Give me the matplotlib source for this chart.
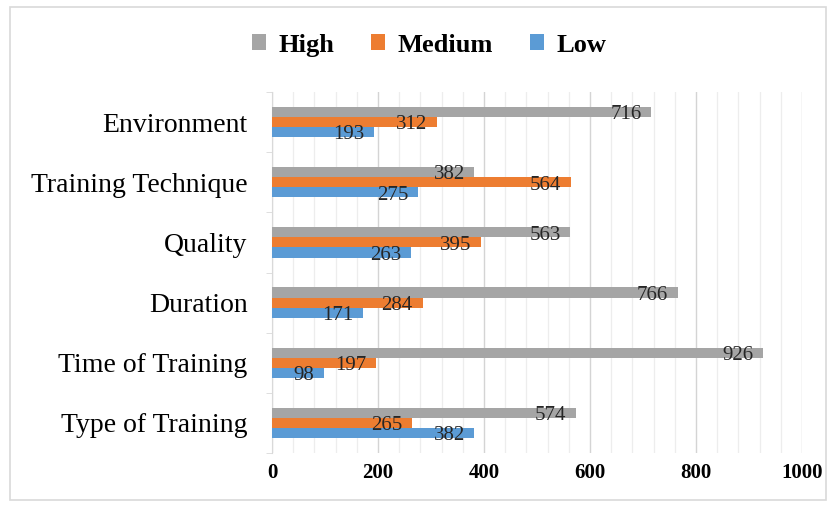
import matplotlib
matplotlib.use("Agg")
import matplotlib.pyplot as plt
import numpy as np
from matplotlib.patches import Rectangle
from matplotlib.ticker import MultipleLocator

categories = ["Environment", "Training Technique", "Quality", "Duration",
              "Time of Training", "Type of Training"]
high = [716, 382, 563, 766, 926, 574]
medium = [312, 564, 395, 284, 197, 265]
low = [193, 275, 263, 171, 98, 382]
series_names = ["High", "Medium", "Low"]
colors = ["#A5A5A5", "#ED7D31", "#5B9BD5"]
x_ticks = [0, 200, 400, 600, 800, 1000]

plt.rcParams["font.family"] = ["Liberation Serif", "DejaVu Serif"]

fig = plt.figure(figsize=(8.36, 5.07), dpi=100)
ax = fig.add_axes([0.3254, 0.1065, 0.9593 - 0.3254, 0.8185 - 0.1065])

n = len(categories)
y = np.arange(n)[::-1].astype(float)  # first category at top
bar_h = 0.168
offsets = [bar_h, 0.0, -bar_h]

for vals, name, col, off in zip([high, medium, low], series_names, colors, offsets):
    bars = ax.barh(y + off, vals, height=bar_h, color=col, label=name, zorder=3)
    for b, v in zip(bars, vals):
        ax.annotate(str(v), xy=(v, b.get_y() + b.get_height() / 2),
                    xytext=(-7, -2), textcoords="offset points",
                    ha="right", va="center", fontsize=15, color="#262626",
                    zorder=4)

ax.set_xlim(0, 1000)
ax.set_ylim(-0.5, n - 0.5)
ax.set_xticks(x_ticks)
ax.set_xticklabels([str(t) for t in x_ticks], fontsize=15, fontweight="bold")
ax.xaxis.set_minor_locator(MultipleLocator(40))
ax.grid(axis="x", which="major", color="#D4D4D4", linewidth=1.0, zorder=0)
ax.grid(axis="x", which="minor", color="#EDEDED", linewidth=0.9, zorder=0)
ax.tick_params(axis="x", which="both", length=0, pad=7)

ax.set_yticks(y)
ax.set_yticklabels(categories, fontsize=20)
ax.set_yticks(np.arange(n + 1) - 0.5, minor=True)
ax.tick_params(axis="y", which="major", length=0, pad=17.5)
ax.tick_params(axis="y", which="minor", length=4, color="#D9D9D9", direction="out")

for s in ["top", "right", "bottom"]:
    ax.spines[s].set_visible(False)
ax.spines["left"].set_color("#D9D9D9")

handles, labels = ax.get_legend_handles_labels()
fig.legend(handles, labels, loc="center", bbox_to_anchor=(0.513, 0.911),
           ncol=3, frameon=False, prop={"weight": "bold", "size": 19},
           handlelength=0.55, handleheight=0.55, handletextpad=0.45,
           columnspacing=1.4)

fig.patches.append(Rectangle((10 / 836, 7 / 507), 816 / 836, 493 / 507,
                             transform=fig.transFigure, fill=False,
                             edgecolor="#D9D9D9", linewidth=1.2))

fig.savefig("out.png", dpi=100)
